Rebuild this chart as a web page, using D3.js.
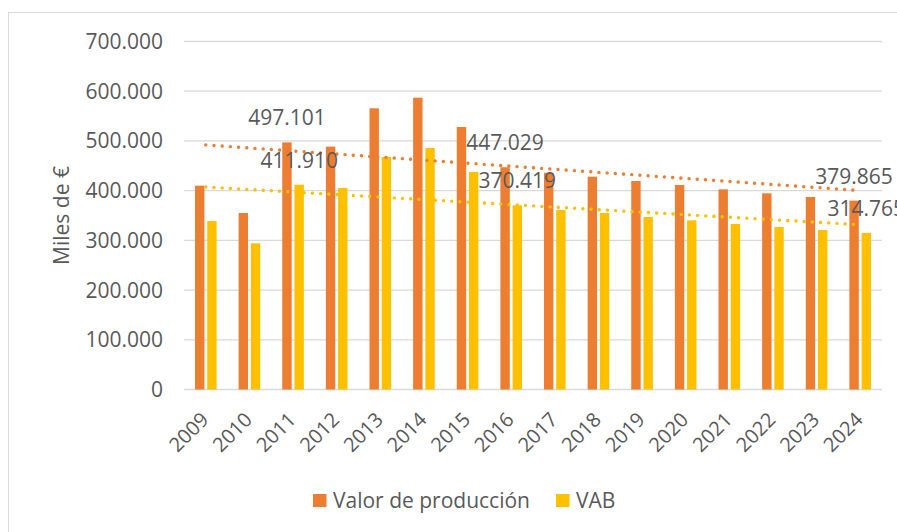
<!DOCTYPE html>
<html>
<head>
<meta charset="utf-8">
<script src="https://cdn.jsdelivr.net/npm/d3@7/dist/d3.min.js"></script>
<style>
body { margin: 0; background: #fff; }
text { font-family: "Open Sans", sans-serif; fill: #595959; }
</style>
</head>
<body>
<div id="chart"></div>
<script>
var w = 897,
    h = 532;

// data (miles de euros)
var years = ["2009", "2010", "2011", "2012", "2013", "2014", "2015", "2016",
             "2017", "2018", "2019", "2020", "2021", "2022", "2023", "2024"];
var produccion = [410000, 355000, 497101, 488500, 565600, 587000, 528000, 447029,
                  436000, 428100, 419400, 411400, 402600, 394600, 387200, 379865];
var vab = [338900, 294000, 411910, 405300, 467700, 485800, 437500, 370419,
           361100, 355000, 347000, 340300, 332900, 326900, 320800, 314765];
var yTicks = [0, 100000, 200000, 300000, 400000, 500000, 600000, 700000];
var labelYears = ["2011", "2016", "2024"];
var seriesNames = ["Valor de producción", "VAB"];
var colors = ["#ED7D31", "#FFC000"];

var margin = {left: 184, right: 15, top: 41.5, bottom: 142.5};

var svg = d3.select("#chart")
    .append("svg")
    .attr("width", w)
    .attr("height", h);

// chart border
svg.append("rect")
    .attr("x", 8.5).attr("y", 12.5)
    .attr("width", w).attr("height", h)
    .attr("fill", "none")
    .attr("stroke", "#D9D9D9");

var x = d3.scaleBand()
    .domain(years)
    .range([margin.left, w - margin.right]);

var xSub = d3.scaleBand()
    .domain([0, 1])
    .range([-10.8, 10.8])
    .paddingInner(0.23);

var y = d3.scaleLinear()
    .domain([0, 700000])
    .range([h - margin.bottom, margin.top]);

var fmt = function(v) { return d3.format(",")(v).replace(/,/g, "."); };

// gridlines
svg.selectAll(".grid")
    .data(yTicks)
    .enter()
    .append("line")
    .attr("class", "grid")
    .attr("x1", margin.left)
    .attr("x2", w - margin.right)
    .attr("y1", function(d) { return y(d); })
    .attr("y2", function(d) { return y(d); })
    .attr("stroke", "#D9D9D9")
    .attr("stroke-width", 1.3);

// y tick labels
svg.selectAll(".ytick")
    .data(yTicks)
    .enter()
    .append("text")
    .attr("class", "ytick")
    .attr("x", 163)
    .attr("y", function(d) { return y(d); })
    .attr("dy", "0.36em")
    .attr("text-anchor", "end")
    .attr("font-size", "21px")
    .text(function(d) { return fmt(d); });

// y axis title
svg.append("text")
    .attr("transform", "translate(69," + ((y(0) + y(700000)) / 2) + ") rotate(-90)")
    .attr("text-anchor", "middle")
    .attr("font-size", "21px")
    .text("Miles de €");

// x tick labels
svg.selectAll(".xtick")
    .data(years)
    .enter()
    .append("text")
    .attr("class", "xtick")
    .attr("text-anchor", "end")
    .attr("font-size", "20px")
    .attr("transform", function(d) {
        return "translate(" + (x(d) + x.bandwidth() / 2 + 4) + ",421) rotate(-45)";
    })
    .text(function(d) { return d; });

// bars
var series = [produccion, vab];
series.forEach(function(vals, s) {
    svg.selectAll(".bar" + s)
        .data(vals)
        .enter()
        .append("rect")
        .attr("class", "bar" + s)
        .attr("x", function(d, i) { return x(years[i]) + x.bandwidth() / 2 + xSub(s); })
        .attr("y", function(d) { return y(d); })
        .attr("width", xSub.bandwidth())
        .attr("height", function(d) { return y(0) - y(d); })
        .attr("fill", colors[s]);
});

// linear trend lines
series.forEach(function(vals, s) {
    var n = vals.length;
    var mx = d3.mean(vals, function(d, i) { return i; });
    var my = d3.mean(vals);
    var sxy = d3.sum(vals, function(d, i) { return (i - mx) * (d - my); });
    var sxx = d3.sum(vals, function(d, i) { return (i - mx) * (i - mx); });
    var b = sxy / sxx, a = my - b * mx;
    var cx = function(i) { return x(years[i]) + x.bandwidth() / 2; };
    svg.append("line")
        .attr("x1", cx(0))
        .attr("y1", y(a))
        .attr("x2", cx(n - 1))
        .attr("y2", y(a + b * (n - 1)))
        .attr("stroke", colors[s])
        .attr("stroke-width", 3.4)
        .attr("stroke-linecap", "round")
        .attr("stroke-dasharray", "0.01 8.2");
});

// data labels
series.forEach(function(vals, s) {
    svg.selectAll(".lbl" + s)
        .data(labelYears)
        .enter()
        .append("text")
        .attr("class", "lbl" + s)
        .attr("x", function(d) { return x(d) + x.bandwidth() / 2 + xSub(s) + xSub.bandwidth() / 2; })
        .attr("y", function(d) { return y(vals[years.indexOf(d)]) - 17; })
        .attr("text-anchor", "middle")
        .attr("font-size", "21px")
        .text(function(d) { return fmt(vals[years.indexOf(d)]); });
});

// legend
var legend = svg.append("g");
var legX = [313, 556];
seriesNames.forEach(function(name, s) {
    legend.append("rect")
        .attr("x", legX[s])
        .attr("y", 494)
        .attr("width", 13.5)
        .attr("height", 13)
        .attr("fill", colors[s]);
    legend.append("text")
        .attr("x", legX[s] + 20)
        .attr("y", 507.5)
        .attr("font-size", "21px")
        .text(name);
});
</script>
</body>
</html>
